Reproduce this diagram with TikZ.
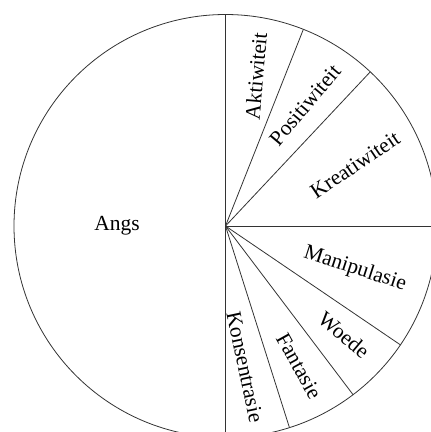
\documentclass[tikz,border=0pt]{standalone}
\usepackage{fontspec}
\setmainfont{Liberation Serif}
\begin{document}
\begin{tikzpicture}[x=1pt,y=1pt,
  edge/.style={draw=black!80, line width=0.8pt},
  lbl/.style={font=\fontsize{21.5}{24}\selectfont, inner sep=0pt}]
\useasboundingbox (-225.5,-206) rectangle (205.5,226);
\def\R{211.5}
\coordinate (c) at (0,0);
\begin{scope}
  \clip (-225.5,-206) rectangle (205.5,226);
  \draw[edge] (c) circle (\R);
  % sector borders
  \foreach \a/\n in {90/top,68.4/a,46.8/b,0/right,-34.2/d,-52.9/e,-72.4/f,-90/bot}
    \coordinate (p\n) at (\a:\R);
  \foreach \n in {top,a,b,right,d,e,f,bot}
    \draw[edge] (c) -- (p\n);
\end{scope}
% labels
\node[lbl] (angs) at (-108.5,0) {Angs};
\node[lbl, rotate=85] (akt) at (30.5,150) {Aktiwiteit};
\node[lbl, rotate=50] (pos) at (79.5,121) {Positiwiteit};
\node[lbl, rotate=34] (kre) at (129.5,61) {Kreatiwiteit};
\node[lbl, rotate=-18] (man) at (129.5,-43) {Manipulasie};
\node[lbl, rotate=-40] (woe) at (118.5,-109) {Woede};
\node[lbl, rotate=-61] (fan) at (73.5,-140) {Fantasie};
\node[lbl, rotate=-78] (kon) at (19.5,-141) {Konsentrasie};
\end{tikzpicture}
\end{document}
